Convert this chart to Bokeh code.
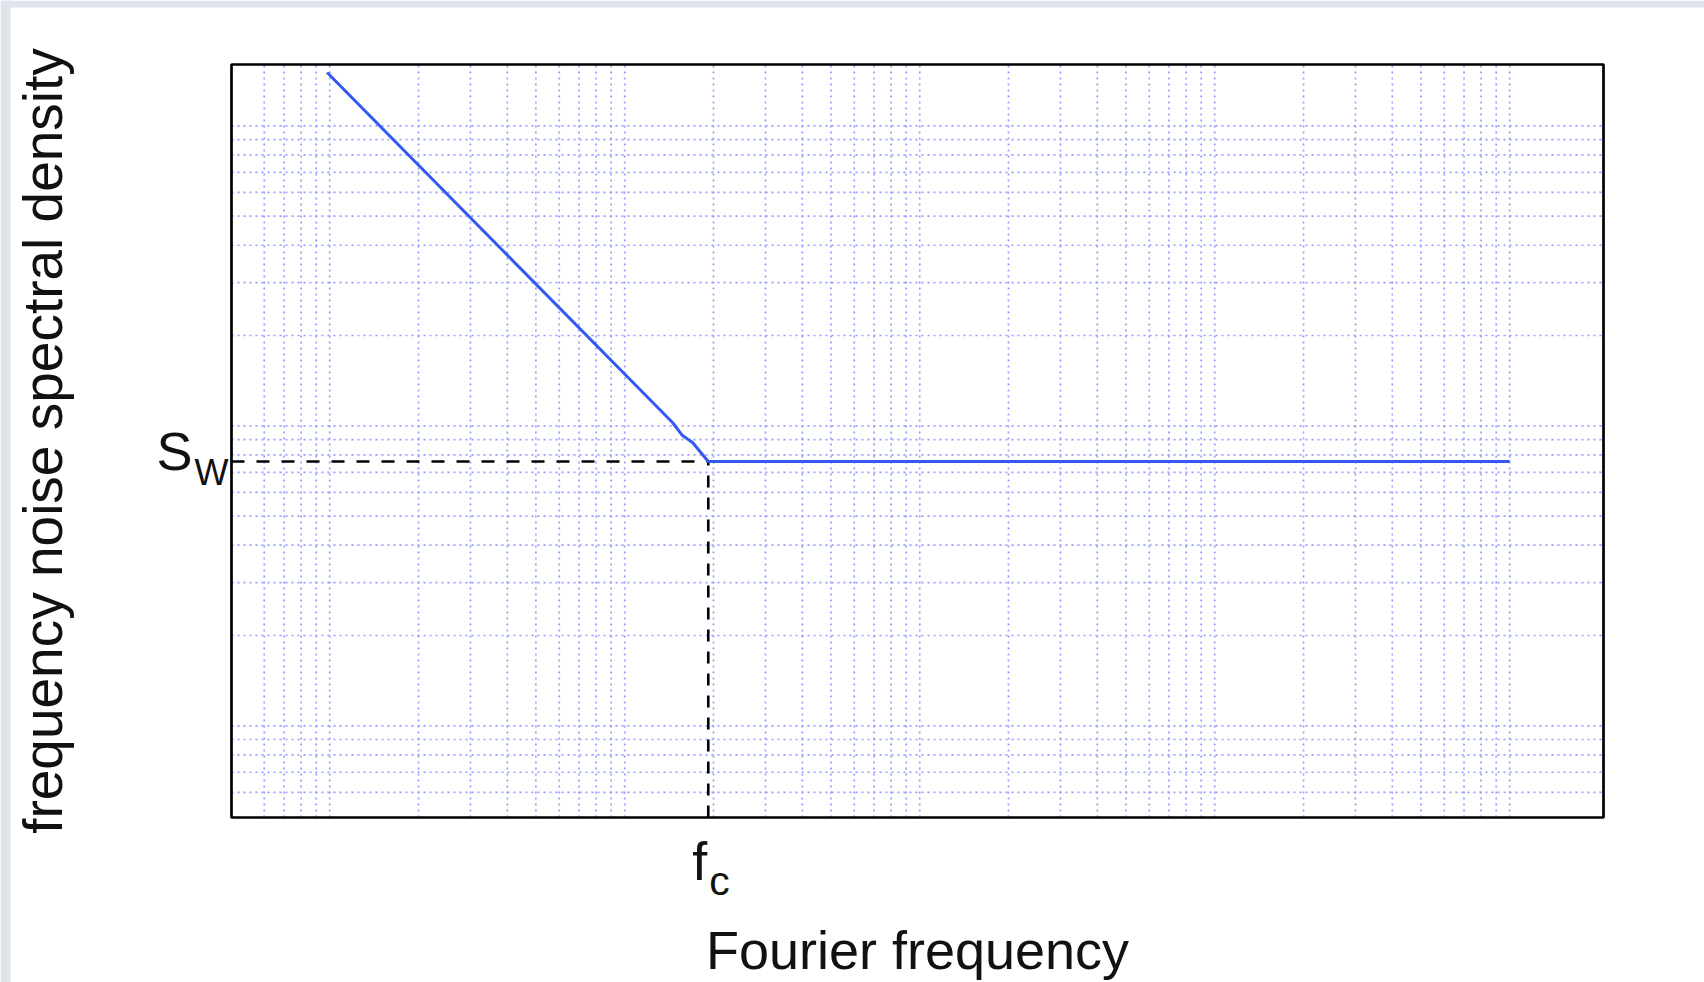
import math
from bokeh.plotting import figure
from bokeh.models import Range1d, Label
from bokeh.embed import file_html
from bokeh.resources import INLINE

# ---- data ----
freq = [0.49, 7.26, 7.85, 8.49, 9.6, 5000]
psd = [75.3, 5.13, 4.64, 4.40, 3.8, 3.8]
fc = 9.6
sw = 3.8
x_lim = [0.2323, 10397]
y_lim = [0.2473, 80.08]
x_grid = [0.3, 0.35, 0.4, 0.45, 0.5,
          1, 1.5, 2, 2.5, 3, 3.5, 4, 4.5, 5,
          10, 15, 20, 25, 30, 35, 40, 45, 50,
          100, 150, 200, 250, 300, 350, 400, 450, 500,
          1000, 1500, 2000, 2500, 3000, 3500, 4000, 4500, 5000]
y_grid = [0.3, 0.35, 0.4, 0.45, 0.5,
          1, 1.5, 2, 2.5, 3, 3.5, 4, 4.5, 5,
          10, 15, 20, 25, 30, 35, 40, 45, 50]
x_label = "Fourier frequency"
y_label = "frequency noise spectral density"

FONT = "Liberation Sans"
W, H = 1704, 982

# page-pixel <-> data mapping (the frame fills the whole canvas)
LX0, LX1 = math.log10(x_lim[0]), math.log10(x_lim[1])
LY0, LY1 = math.log10(y_lim[0]), math.log10(y_lim[1])
BOX_L, BOX_R, BOX_T, BOX_B = 231, 1603, 64, 817
xpp = (LX1 - LX0) / (BOX_R - BOX_L)
ypp = (LY1 - LY0) / (BOX_B - BOX_T)


def px2x(px):
    return 10 ** (LX0 + (px - BOX_L) * xpp)


def px2y(py):
    return 10 ** (LY0 + (BOX_B - py) * ypp)


def shift(size):
    # compensation for where the label anchor sits relative to the baseline
    return 0.39 * size


p = figure(width=W, height=H,
           x_axis_type="log", y_axis_type="log",
           x_range=Range1d(px2x(0), px2x(W)), y_range=Range1d(px2y(H), px2y(0)),
           x_axis_location=None, y_axis_location=None,
           output_backend="svg", toolbar_location=None,
           min_border=0, outline_line_color=None,
           background_fill_color="white", border_fill_color="white")
for g in p.grid:
    g.visible = False

# light bluish page border (top and left)
strip = "#dfe4ec"
p.quad(left=[px2x(0)], right=[px2x(10)], bottom=[px2y(H)], top=[px2y(0)],
       fill_color=strip, line_color=None)
p.quad(left=[px2x(0)], right=[px2x(W)], bottom=[px2y(7)], top=[px2y(0)],
       fill_color=strip, line_color=None)

# dotted grid
gcol = "#979cff"
p.segment(x0=x_grid, y0=[y_lim[0]] * len(x_grid), x1=x_grid, y1=[y_lim[1]] * len(x_grid),
          line_color=gcol, line_width=1.7, line_dash="2 4")
p.segment(x0=[x_lim[0]] * len(y_grid), y0=y_grid, x1=[x_lim[1]] * len(y_grid), y1=y_grid,
          line_color=gcol, line_width=1.7, line_dash="2 4")

# reference lines
p.line([x_lim[0], fc], [sw, sw], line_color="black", line_width=2.6, line_dash="13 12")
p.line([fc, fc], [y_lim[0], sw], line_color="black", line_width=2.6, line_dash="12 10")

# spectrum
p.line(freq, psd, line_color="#3458f2", line_width=3)

# frame box
p.quad(left=[x_lim[0]], right=[x_lim[1]], bottom=[y_lim[0]], top=[y_lim[1]],
       fill_color=None, line_color="black", line_width=2.7)

txt = dict(text_font=FONT, text_color="#111111", text_baseline="alphabetic")
p.add_layout(Label(x=px2x(192), y=px2y(472 - shift(54)), text="S",
                   text_align="right", text_font_size="54px", **txt))
p.add_layout(Label(x=px2x(194), y=px2y(486 - shift(36)), text="W",
                   text_align="left", text_font_size="36px", **txt))
p.add_layout(Label(x=fc, y=px2y(882 - shift(54)), x_offset=-1, text="f",
                   text_align="right", text_font_size="54px", **txt))
p.add_layout(Label(x=fc, y=px2y(896 - shift(41)), x_offset=1, text="c",
                   text_align="left", text_font_size="41px", **txt))
p.add_layout(Label(x=math.sqrt(x_lim[0] * x_lim[1]), y=px2y(971 - shift(54)), text=x_label,
                   text_align="center", text_font_size="54px", **txt))
p.add_layout(Label(x=px2x(64 - shift(55)), y=math.sqrt(y_lim[0] * y_lim[1]), angle=math.pi / 2,
                   text=y_label, text_align="center", text_font_size="55px", **txt))

open("out.html", "w").write(file_html(p, INLINE))
